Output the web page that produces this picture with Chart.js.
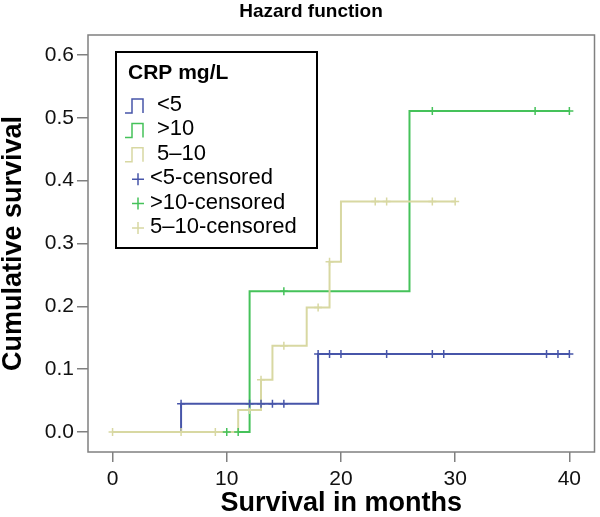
<!DOCTYPE html>
<html>
<head>
<meta charset="utf-8">
<script src="https://cdn.jsdelivr.net/npm/chart.js@4.4.1/dist/chart.umd.min.js"></script>
<style>
  body { margin: 0; background: #fff; }
  canvas { display: block; }
</style>
</head>
<body>
<canvas id="hazardChart" width="600" height="517"></canvas>
<script>
// step points (time in months, cumulative hazard) per CRP group
const groupNames = ['<5', '>10', '5–10'];
const lowTimes = [0, 6, 18, 40];
const lowValues = [0, 0.045, 0.124, 0.124];
const highTimes = [0, 12, 26, 40];
const highValues = [0, 0.224, 0.511, 0.511];
const midTimes = [0, 11, 13, 14, 17, 19, 20, 30];
const midValues = [0, 0.035, 0.083, 0.137, 0.198, 0.271, 0.367, 0.367];

// censored observations (months)
const lowCensored = [6, 12, 13, 14, 15, 18, 19, 20, 24, 28, 29, 38, 39, 40];
const highCensored = [10, 11, 15, 28, 37, 40];
const midCensored = [0, 6, 9, 12, 13, 15, 18, 19, 23, 24, 28, 30];

const xTicks = [0, 10, 20, 30, 40];
const yTicks = [0, 0.1, 0.2, 0.3, 0.4, 0.5, 0.6];

const colors = ['#4755a9', '#45c25a', '#d8d8a2'];

function stepPoints(times, values) {
  return times.map((t, i) => ({ x: t, y: values[i] }));
}

// level of the step curve at time t
function levelAt(times, values, t) {
  let v = values[0];
  times.forEach((tt, i) => { if (tt <= t) v = values[i]; });
  return v;
}

function censorPoints(cens, times, values) {
  return cens.map(t => ({ x: t, y: levelAt(times, values, t) }));
}

const curves = [
  { times: lowTimes, values: lowValues, cens: lowCensored },
  { times: highTimes, values: highValues, cens: highCensored },
  { times: midTimes, values: midValues, cens: midCensored }
];

const datasets = [];
curves.forEach((c, i) => {
  datasets.push({
    label: groupNames[i] + '-censored',
    data: censorPoints(c.cens, c.times, c.values),
    showLine: false,
    pointStyle: 'cross',
    pointRadius: 4,
    pointBorderWidth: 1.5,
    borderColor: colors[i],
    backgroundColor: colors[i],
    order: i
  });
});
// yellow line on top, then green, then blue
[2, 1, 0].forEach((i, k) => {
  datasets.push({
    label: groupNames[i],
    data: stepPoints(curves[i].times, curves[i].values),
    showLine: true,
    stepped: true,
    pointRadius: 0,
    borderWidth: 2,
    borderColor: colors[i],
    backgroundColor: colors[i],
    order: 3 + k
  });
});

const frameAndText = {
  id: 'frameAndText',
  afterDraw(chart) {
    const ctx = chart.ctx;
    const a = chart.chartArea;
    ctx.save();
    // plot frame
    ctx.strokeStyle = '#808080';
    ctx.lineWidth = 1.5;
    ctx.strokeRect(a.left, a.top, a.right - a.left, a.bottom - a.top);

    // chart title
    ctx.fillStyle = '#000';
    ctx.font = 'bold 19px "Liberation Sans", Arial, sans-serif';
    ctx.textAlign = 'center';
    ctx.textBaseline = 'middle';
    ctx.fillText('Hazard function', 311, 12);

    // legend box
    const lx = a.left + 28, ly = a.top + 17, lw = 201, lh = 196;
    ctx.fillStyle = '#fff';
    ctx.fillRect(lx, ly, lw, lh);
    ctx.strokeStyle = '#000';
    ctx.lineWidth = 2;
    ctx.strokeRect(lx, ly, lw, lh);

    ctx.textAlign = 'left';
    ctx.fillStyle = '#000';
    ctx.font = 'bold 21px "Liberation Sans", Arial, sans-serif';
    ctx.fillText('CRP mg/L', lx + 12, ly + 21);

    ctx.font = '22px "Liberation Sans", Arial, sans-serif';
    const rowGap = 24.4;
    groupNames.forEach((name, i) => {
      const cy = ly + 53 + i * rowGap;
      ctx.strokeStyle = colors[i];
      ctx.lineWidth = 1.5;
      ctx.beginPath();
      ctx.moveTo(lx + 9, cy + 8);
      ctx.lineTo(lx + 16, cy + 8);
      ctx.lineTo(lx + 16, cy - 6);
      ctx.lineTo(lx + 27, cy - 6);
      ctx.lineTo(lx + 27, cy + 8);
      ctx.stroke();
      ctx.fillStyle = '#000';
      ctx.fillText(name, lx + 41, cy);
    });
    groupNames.forEach((name, i) => {
      const cy = ly + 53 + (i + 3) * rowGap;
      const cx = lx + 22;
      ctx.strokeStyle = colors[i];
      ctx.lineWidth = 1.5;
      ctx.beginPath();
      ctx.moveTo(cx - 6, cy + 1);
      ctx.lineTo(cx + 6, cy + 1);
      ctx.moveTo(cx, cy - 5);
      ctx.lineTo(cx, cy + 7);
      ctx.stroke();
      ctx.fillStyle = '#000';
      ctx.fillText(name + '-censored', lx + 34, cy);
    });
    ctx.restore();
  }
};

const tickFont = { family: '"Liberation Sans", Arial, sans-serif', size: 21 };
const titleFont = { family: '"Liberation Sans", Arial, sans-serif', size: 27, weight: 'bold', lineHeight: 1 };

new Chart(document.getElementById('hazardChart'), {
  type: 'scatter',
  data: { datasets: datasets },
  options: {
    responsive: false,
    animation: false,
    layout: { padding: { top: 35, right: 2, left: 0, bottom: 0 } },
    plugins: {
      legend: { display: false },
      tooltip: { enabled: false }
    },
    scales: {
      x: {
        type: 'linear',
        min: -2.15,
        max: 42.2,
        afterBuildTicks: s => { s.ticks = xTicks.map(v => ({ value: v })); },
        afterFit: s => { s.height = 65; },
        ticks: { font: tickFont, color: '#111', padding: 5, maxRotation: 0 },
        grid: { drawOnChartArea: false, drawTicks: true, tickLength: 10, color: '#808080', lineWidth: 1.5 },
        border: { display: false },
        title: { display: true, text: 'Survival in months', font: titleFont, color: '#000', padding: 0 }
      },
      y: {
        min: -0.032,
        max: 0.632,
        afterBuildTicks: s => { s.ticks = yTicks.map(v => ({ value: v })); },
        afterFit: s => { s.width = 88; },
        ticks: { font: tickFont, color: '#111', padding: 3, callback: v => v.toFixed(1) },
        grid: { drawOnChartArea: false, drawTicks: true, tickLength: 11, color: '#808080', lineWidth: 1.5 },
        border: { display: false },
        title: { display: true, text: 'Cumulative survival', font: titleFont, color: '#000', padding: 0 }
      }
    }
  },
  plugins: [frameAndText]
});
</script>
</body>
</html>
